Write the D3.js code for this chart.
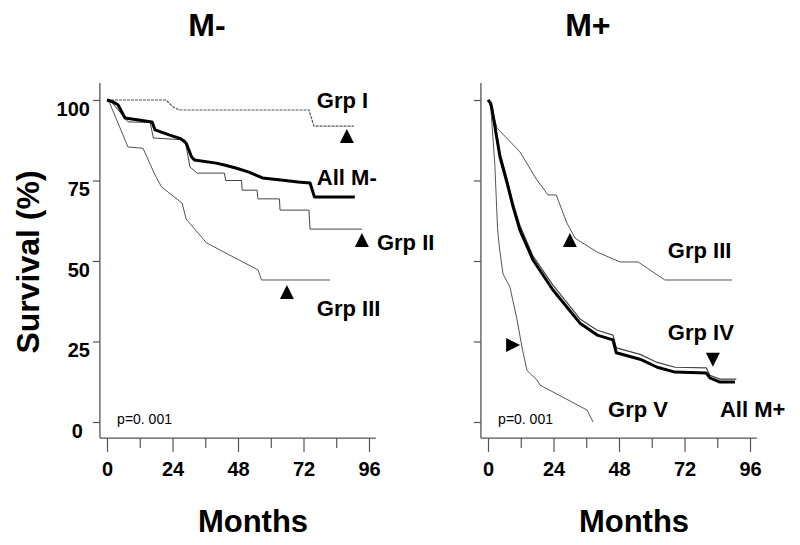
<!DOCTYPE html>
<html><head><meta charset="utf-8">
<script src="https://cdn.jsdelivr.net/npm/d3@7"></script>
<style>body{margin:0;background:#fff}svg{display:block}</style>
</head><body>
<svg id="c" width="800" height="545"></svg>
<script>
// ---- data (month, survival %) ----
const yTicks = [0, 25, 50, 75, 100];
const xMajor = [0, 24, 48, 72, 96];
const xMinor = [12, 36, 60, 84];

const grpI_neg = [[0,100],[21.6,100],[24,98],[26.4,96.9],[74,96.9],[75.8,91.9],[90.5,91.9]];
const allMneg = [[0,100],[2,99.5],[4,98.5],[6.6,94.4],[16.5,93.2],[17.6,90.7],[23,89.1],[27,88],[29,86.6],[31,82.3],[32,81.4],[40,80.4],[43,79.8],[47.5,78.8],[52,77.6],[57,75.8],[64.5,75.1],[70,74.5],[74.4,74.2],[76,69.9],[90.8,69.9]];
const grpII_neg = [[0,100],[2,99],[5,96],[7.7,93.2],[15.8,93],[17,88.2],[28.6,87.6],[30.4,79.2],[33,77.3],[43,77.3],[43.5,75],[49.3,75],[49.5,72],[55,72],[55.3,69.3],[63.2,69.3],[63.4,65.8],[74,65.8],[74.4,59.9],[93.4,59.9]];
const grpIII_neg = [[0,100],[1,99],[7.7,85.4],[13.2,85],[17.6,76.7],[20,73],[27.5,68],[29,63],[36.5,55.6],[55.4,47.2],[56.6,44.1],[81.7,44.1]];

const allMpos = [[0,100],[1,99],[1.5,97],[4.4,82.3],[7,74.2],[9.2,66.8],[11.7,59.6],[16.5,50.3],[23.8,41],[33.7,30.7],[40,27],[45.8,25.5],[47,21.5],[55.7,19.5],[62,17],[68.5,15.5],[80,15.2],[81.3,13.7],[85,12.4],[90.5,12.4]];
const grpIV_pos = [[0,100],[1,99],[1.5,97.5],[4.4,83.5],[7,75.5],[9.2,68],[11.7,61],[16.5,51.5],[23.8,42.5],[33.7,32],[40,28.5],[45.8,27],[47,23],[55.7,21],[62,18.5],[68.5,17],[80,16.8],[81.3,14.5],[85,13.3],[91,13.3]];
const grpIII_pos = [[0,100],[1.5,97],[3.3,91.3],[11.7,83.9],[17.9,75.2],[22,70.5],[25,70.5],[28.9,61.8],[31.9,57.1],[39.9,52.8],[48.4,49.7],[55,49.7],[64.8,44.1],[89.4,44.1]];
const grpV_pos = [[0,100],[1,98],[2.5,80],[3,70],[3.5,60],[4.2,54],[5.5,46],[8,42],[10.6,32],[12.5,23],[14.3,16],[18,13],[19,11.5],[36.3,3.7],[38.5,0]];

// markers: [month, survival, direction]
const markersNeg = [[87.9,88.8,"up"],[93.4,56.5,"up"],[65.9,40.4,"up"]];
const markersPos = [[30,56.5,"up"],[9.2,23.9,"right"],[82.4,19.3,"down"]];

// labels: [text, month, survival]
const labelsNeg = [["Grp I",76.9,100],["All M-",76.9,76.1],["Grp II",98.9,55.9],["Grp III",76.9,35.4]];
const labelsPos = [["Grp III",65.9,53.4],["Grp IV",65.9,28],["Grp V",44,4],["All M+",85,4]];

const svg = d3.select("#c");
const y = d3.scaleLinear().domain([0,100]).range([422,100]);
const FONT = "Liberation Sans, Arial, sans-serif";

function panel(x0, title, showYLabels, series, markers, labels) {
  const x = d3.scaleLinear().domain([0,96]).range([x0, x0+262]);
  const g = svg.append("g");
  const axX = x(-2.6);
  // axis lines
  g.append("line").attr("x1",axX).attr("x2",axX).attr("y1",y(105.3)).attr("y2",y(-5))
    .attr("stroke","#555").attr("stroke-width",1.3);
  g.append("line").attr("x1",axX).attr("x2",x(98.5)).attr("y1",y(-5)).attr("y2",y(-5))
    .attr("stroke","#555").attr("stroke-width",1.3);
  // y ticks
  const ya = d3.axisLeft(y).tickValues(yTicks).tickSize(7).tickSizeOuter(0)
    .tickFormat(showYLabels ? d3.format("d") : "");
  const yg = g.append("g").attr("transform",`translate(${axX},0)`).call(ya);
  yg.select(".domain").remove();
  yg.selectAll(".tick line").attr("stroke","#555").attr("stroke-width",1.2);
  yg.selectAll(".tick text").attr("font-family",FONT).attr("font-weight","bold")
    .attr("font-size",20).attr("fill","#000")
    .attr("x", d => d === 0 ? -17 : -10).attr("dy","0.75em");
  // x ticks
  const xa = d3.axisBottom(x).tickValues(xMajor).tickSize(14).tickSizeOuter(0).tickPadding(10);
  const xg = g.append("g").attr("transform",`translate(0,${y(-5)})`).call(xa);
  xg.select(".domain").remove();
  xg.selectAll(".tick line").attr("stroke","#555").attr("stroke-width",1.2);
  xg.selectAll(".tick text").attr("font-family",FONT).attr("font-weight","bold")
    .attr("font-size",20).attr("fill","#000");
  const xm = d3.axisBottom(x).tickValues(xMinor).tickSize(10).tickSizeOuter(0).tickFormat("");
  const xmg = g.append("g").attr("transform",`translate(0,${y(-5)})`).call(xm);
  xmg.select(".domain").remove();
  xmg.selectAll(".tick line").attr("stroke","#555").attr("stroke-width",1.2);

  // curves
  const line = d3.line().x(d=>x(d[0])).y(d=>y(d[1]));
  series.forEach(s => {
    g.append("path").attr("d",line(s.data)).attr("fill","none")
      .attr("stroke",s.color).attr("stroke-width",s.w)
      .attr("stroke-dasharray",s.dash||null)
      .attr("stroke-linejoin","round");
  });
  // markers
  const tri = {up:[[0,-7],[7,7],[-7,7]], down:[[0,7],[7,-7],[-7,-7]], right:[[7,0],[-7,-7],[-7,7]]};
  markers.forEach(m => {
    const cx = x(m[0]), cy = y(m[1]);
    g.append("path").attr("d","M"+tri[m[2]].map(p=>[cx+p[0],cy+p[1]].join(",")).join("L")+"Z")
      .attr("fill","#000");
  });
  // labels
  labels.forEach(l => {
    g.append("text").attr("x",x(l[1])).attr("y",y(l[2])).attr("dy","0.36em")
      .attr("font-family",FONT).attr("font-weight","bold").attr("font-size",22)
      .attr("fill","#000").text(l[0]);
  });
  // p value
  g.append("text").attr("x",x(3.7)).attr("y",424).attr("font-family",FONT)
    .attr("font-size",14).attr("fill","#000").text("p=0. 001");
  // title
  g.append("text").attr("x",x(36.6)).attr("y",36).attr("text-anchor","middle")
    .attr("font-family",FONT).attr("font-weight","bold").attr("font-size",32)
    .attr("fill","#000").text(title);
  // x label
  g.append("text").attr("x",x(53.5)).attr("y",532).attr("text-anchor","middle")
    .attr("font-family",FONT).attr("font-weight","bold").attr("font-size",31)
    .attr("fill","#000").text("Months");
}

panel(107, "M-", true, [
  {data:grpI_neg, color:"#555", w:1.2, dash:"3,1"},
  {data:grpIII_neg, color:"#555", w:1},
  {data:grpII_neg, color:"#444", w:1},
  {data:allMneg, color:"#000", w:3}
], markersNeg, labelsNeg);

panel(488, "M+", false, [
  {data:grpV_pos, color:"#555", w:1},
  {data:grpIII_pos, color:"#555", w:1},
  {data:grpIV_pos, color:"#444", w:1.2},
  {data:allMpos, color:"#000", w:3}
], markersPos, labelsPos);

// y axis title
svg.append("text").attr("transform","translate(39,262) rotate(-90)")
  .attr("text-anchor","middle").attr("font-family",FONT).attr("font-weight","bold")
  .attr("font-size",32).attr("fill","#000").text("Survival (%)");
</script>
</body></html>
